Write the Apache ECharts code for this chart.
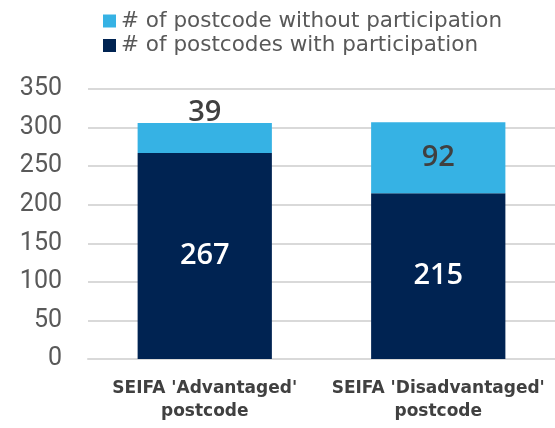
<!DOCTYPE html>
<html>
<head>
<meta charset="utf-8">
<script src="https://cdn.jsdelivr.net/npm/echarts@6/dist/echarts.min.js"></script>
<style>
    html, body { margin: 0; padding: 0; background: #fff; }
    .container { width: 555px; height: 428px; }
</style>
</head>
<body>
<div class="container"></div>
<script>
const categories = ["SEIFA 'Advantaged'\npostcode", "SEIFA 'Disadvantaged'\npostcode"];
const withParticipation = [267, 215];
const withoutParticipation = [39, 92];
const seriesNames = ['# of postcodes with participation', '# of postcode without participation'];

(function(){
    let myChart = echarts.init(document.querySelector('.container'));

    const labelStyle = {
        show: true,
        fontFamily: 'Open Sans',
        fontSize: 29,
        fontWeight: 600
    };

    const option = {
        color: ['#002352', '#36B2E4'],
        legend: {
            data: [seriesNames[1], seriesNames[0]],
            orient: 'vertical',
            left: 98,
            top: 5,
            itemWidth: 13,
            itemHeight: 13,
            itemGap: 2.5,
            icon: 'rect',
            textStyle: {
                color: '#595959',
                fontSize: 21.5,
                fontFamily: 'DejaVu Sans'
            }
        },
        grid: {
            left: 88,
            right: -2,
            top: 89,
            bottom: 69
        },
        xAxis: {
            type: 'category',
            data: categories,
            axisTick: { show: false },
            axisLine: {
                lineStyle: { color: '#d9d9d9', width: 2 }
            },
            axisLabel: {
                interval: 0,
                color: '#404040',
                fontSize: 17,
                fontWeight: 'bold',
                fontFamily: 'DejaVu Sans',
                lineHeight: 23,
                margin: 18
            }
        },
        yAxis: {
            type: 'value',
            min: 0,
            max: 350,
            interval: 50,
            axisLabel: {
                color: '#595959',
                fontSize: 25,
                fontFamily: 'Roboto',
                margin: 26
            },
            splitLine: {
                lineStyle: { color: '#d9d9d9', width: 2 }
            }
        },
        series: [
            {
                name: seriesNames[0],
                type: 'bar',
                stack: 'total',
                barWidth: '57.5%',
                data: withParticipation,
                label: Object.assign({}, labelStyle, { position: 'inside', color: '#fff' })
            },
            {
                name: seriesNames[1],
                type: 'bar',
                stack: 'total',
                data: withoutParticipation.map((v, i) => ({
                    value: v,
                    label: i === 0 ? { position: 'top', distance: -4 } : { position: 'inside' }
                })),
                label: Object.assign({}, labelStyle, { color: '#404040' })
            }
        ]
    };

    myChart.setOption(option);
})();
</script>
</body>
</html>
